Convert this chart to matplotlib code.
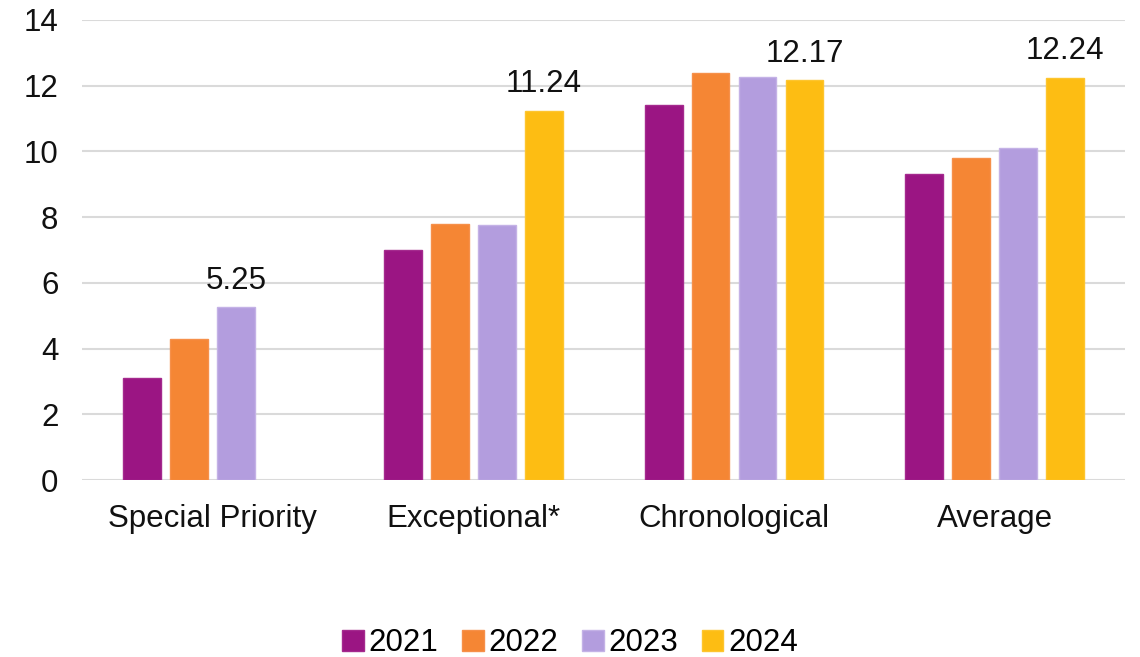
import numpy as np
import matplotlib.pyplot as plt

plt.rcParams['font.family'] = ['Liberation Sans', 'DejaVu Sans']

categories = ['Special Priority', 'Exceptional*', 'Chronological', 'Average']
years = ['2021', '2022', '2023', '2024']
v2021 = [3.1, 7.0, 11.4, 9.3]
v2022 = [4.3, 7.8, 12.4, 9.8]
v2023 = [5.25, 7.75, 12.25, 10.1]
v2024 = [np.nan, 11.24, 12.17, 12.24]
labels = [(2, 0, '5.25'), (3, 1, '11.24'), (3, 2, '12.17'), (3, 3, '12.24')]

colors = ['#9B1583', '#F58634', '#B39DDE', '#FDBD13']
edges = ['#A52A8E', '#F6904A', '#C4B2E6', '#FDC52F']

fig = plt.figure(figsize=(11.4, 6.57), dpi=100)
ax = fig.add_axes([0.072, 0.2694, 0.915, 0.7002])

x = np.arange(len(categories))
step = 0.18
width = 0.145
series = [v2021, v2022, v2023, v2024]
for i, vals in enumerate(series):
    ax.bar(x + (i - 1.5) * step, vals, width, color=colors[i],
           edgecolor=edges[i], linewidth=1, label=years[i], zorder=3)

fs = 22.5
for si, ci, txt in labels:
    ax.text(x[ci] + (si - 1.5) * step, series[si][ci] + 0.35, txt,
            ha='center', va='bottom', fontsize=fs, color='#111111')

ax.set_xlim(-0.5, 3.5)
ax.set_ylim(0, 14)
ax.set_yticks(range(0, 15, 2))
ax.set_xticks(x)
ax.set_xticklabels(categories)
ax.tick_params(axis='both', length=0, labelsize=fs, colors='#111111')
ax.tick_params(axis='x', pad=17)
ax.tick_params(axis='y', pad=17)
ax.grid(axis='y', color='#DADADA', linewidth=1.5, zorder=0)
for s in ax.spines.values():
    s.set_visible(False)

fig.legend(loc='lower center', bbox_to_anchor=(0.5, -0.045), ncol=4,
           frameon=False, fontsize=fs, handlelength=0.7, handleheight=0.7,
           handletextpad=0.15, columnspacing=0.75)

fig.savefig('out.png', dpi=100)
